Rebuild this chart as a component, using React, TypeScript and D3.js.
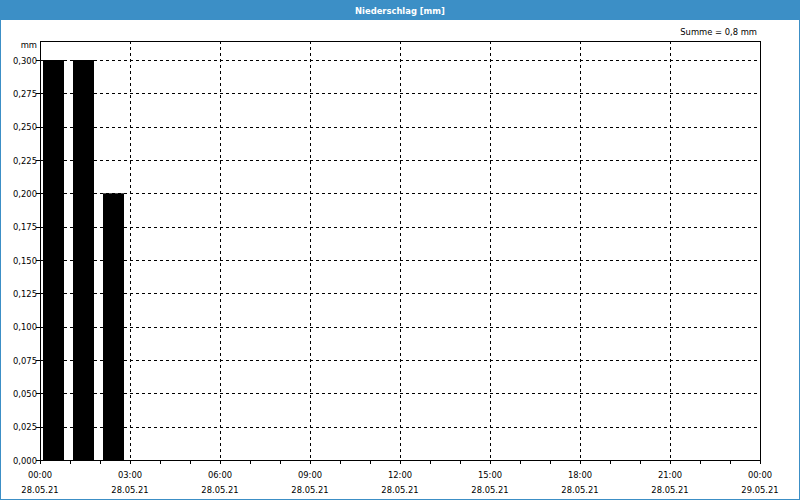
import React from "react";
import * as d3 from "d3";

const hours = Array.from({ length: 24 }, (_, i) => i);
const precip = [0.3, 0.3, 0.2, 0, 0, 0, 0, 0, 0, 0, 0, 0, 0, 0, 0, 0, 0, 0, 0, 0, 0, 0, 0, 0];
const yTicks = [0, 0.025, 0.05, 0.075, 0.1, 0.125, 0.15, 0.175, 0.2, 0.225, 0.25, 0.275, 0.3];
const xTickHours = [0, 3, 6, 9, 12, 15, 18, 21, 24];
const xTimeLabels = ["00:00", "03:00", "06:00", "09:00", "12:00", "15:00", "18:00", "21:00", "00:00"];
const xDateLabels = ["28.05.21", "28.05.21", "28.05.21", "28.05.21", "28.05.21", "28.05.21", "28.05.21", "28.05.21", "29.05.21"];
const title = "Niederschlag [mm]";
const sumLabel = "Summe = 0,8 mm";

const W = 800, H = 500;
const L = 40, R = 760, B = 460, T = 41;
const font = "'DejaVu Sans', sans-serif";
const fs = 8.4;

export default function App() {
  const x = d3.scaleLinear().domain([0, 24]).range([L, R]);
  const y = d3.scaleLinear().domain([0, 0.3]).range([B, 60]);
  const fmt = (v: number) => v.toFixed(3).replace(".", ",");
  return (
    <svg width={W} height={H} style={{ position: "absolute", left: 0, top: 0, background: "#fff" }} fontFamily={font}>
      <rect x={0.5} y={0.5} width={W - 1} height={H - 1} fill="#fff" stroke="#3c8fc6" strokeWidth={1} />
      <rect x={0} y={0} width={W} height={20} fill="#3c8fc6" />
      <text x={W / 2} y={14} textAnchor="middle" fill="#fff" fontSize={8.4} fontWeight="bold">{title}</text>
      <text x={757} y={35} textAnchor="end" fontSize={fs} fill="#000">{sumLabel}</text>
      <text x={37} y={48} textAnchor="end" fontSize={fs} fill="#000">mm</text>
      {yTicks.map((t) => (
        <g key={"y" + t}>
          {t > 0 && (
            <line x1={L} x2={R} y1={Math.round(y(t)) + 0.5} y2={Math.round(y(t)) + 0.5} stroke="#000" strokeDasharray="3,3" />
          )}
          <line x1={L - 4} x2={L} y1={Math.round(y(t)) + 0.5} y2={Math.round(y(t)) + 0.5} stroke="#000" />
          <text x={37} y={y(t) + 3.5} textAnchor="end" fontSize={fs} fill="#000">{fmt(t)}</text>
        </g>
      ))}
      {xTickHours.slice(1, -1).map((h) => (
        <line key={"gx" + h} x1={Math.round(x(h)) + 0.5} x2={Math.round(x(h)) + 0.5} y1={T} y2={B} stroke="#000" strokeDasharray="3,3" />
      ))}
      {hours.map((h, i) => (
        precip[i] > 0 ? (
          <rect key={"b" + h} x={x(h) + 3} width={x(h + 1) - x(h) - 9} y={y(precip[i])} height={B - y(precip[i])} fill="#000" />
        ) : null
      ))}
      {d3.range(0, 25).map((h) => (
        <line key={"tk" + h} x1={Math.round(x(h)) + 0.5} x2={Math.round(x(h)) + 0.5} y1={B} y2={B + 4} stroke="#000" />
      ))}
      <rect x={L + 0.5} y={T + 0.5} width={R - L} height={B - T} fill="none" stroke="#000" />
      {xTickHours.map((h, i) => (
        <g key={"xl" + i}>
          <text x={x(h)} y={478} textAnchor="middle" fontSize={fs} fill="#000">{xTimeLabels[i]}</text>
          <text x={x(h)} y={493} textAnchor="middle" fontSize={fs} fill="#000">{xDateLabels[i]}</text>
        </g>
      ))}
    </svg>
  );
}
